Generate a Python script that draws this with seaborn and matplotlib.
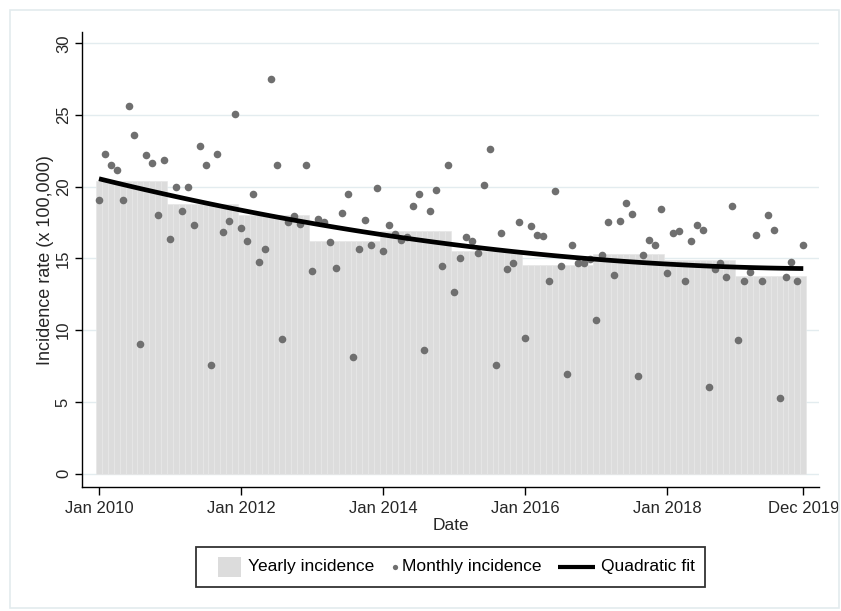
import numpy as np
import pandas as pd
import matplotlib
matplotlib.use("Agg")
import matplotlib.pyplot as plt
import seaborn as sns
from matplotlib.patches import Rectangle
from matplotlib.lines import Line2D
from matplotlib.offsetbox import AnchoredOffsetbox, HPacker, DrawingArea, TextArea

# ---- data ----
years = [2010, 2011, 2012, 2013, 2014, 2015, 2016, 2017, 2018, 2019]
yearly_incidence = [20.4, 18.77, 18.03, 16.21, 16.89, 15.51, 14.58, 15.33, 14.93, 13.77]
monthly_incidence = [
    19.07, 22.31, 21.52, 21.19, 19.07, 25.66, 23.63, 9.02, 22.19, 21.63, 18.05, 21.89,
    16.38, 19.96, 18.28, 19.96, 17.31, 22.87, 21.52, 7.58, 22.31, 16.84, 17.61, 25.10,
    17.10, 16.21, 19.47, 14.75, 15.65, 27.52, 21.49, 9.40, 17.54, 17.96, 17.38, 21.49,
    14.10, 17.72, 17.54, 16.12, 14.33, 18.14, 19.49, 8.16, 15.65, 17.70, 15.91, 19.94,
    15.51, 17.33, 16.70, 16.26, 16.47, 18.65, 19.47, 8.63, 18.31, 19.80, 14.49, 21.49,
    12.68, 15.03, 16.51, 16.19, 15.37, 20.15, 22.63, 7.58, 16.75, 14.24, 14.72, 17.54,
    9.47, 17.26, 16.65, 16.54, 13.45, 19.73, 14.47, 6.96, 15.96, 14.70, 14.70, 14.98,
    10.70, 15.21, 17.52, 13.82, 17.63, 18.89, 18.07, 6.79, 15.21, 16.26, 15.91, 18.42,
    13.96, 16.77, 16.89, 13.40, 16.19, 17.35, 17.00, 6.03, 14.28, 14.70, 13.72, 18.63,
    9.30, 13.45, 14.05, 16.63, 13.45, 18.05, 16.98, 5.30, 13.68, 14.75, 13.45, 15.93,
]
xtick_months = [0, 24, 48, 72, 96, 119]
xtick_labels = ["Jan 2010", "Jan 2012", "Jan 2014", "Jan 2016", "Jan 2018", "Dec 2019"]
ytick_values = [0, 5, 10, 15, 20, 25, 30]
legend_labels = ["Yearly incidence", "Monthly incidence", "Quadratic fit"]

months = np.arange(len(monthly_incidence))
df = pd.DataFrame({
    "month": months,
    "monthly": monthly_incidence,
    "yearly": np.repeat(yearly_incidence, 12),
})

sns.set_style("white")
plt.rcParams["font.family"] = ["Liberation Sans", "DejaVu Sans"]

fig = plt.figure(figsize=(8.41, 6.11), dpi=100)
ax = fig.add_axes([0.0975, 0.2025, 0.8763, 0.7451])

bar_color = "#dcdcdc"
pt_color = "#6f6f6f"

sns.barplot(data=df, x="month", y="yearly", native_scale=True, width=1.0,
            color=bar_color, edgecolor="#e7e7e7", linewidth=0.5,
            errorbar=None, ax=ax, zorder=2, saturation=1)
sns.scatterplot(data=df, x="month", y="monthly", color=pt_color, s=30,
                linewidth=0, ax=ax, zorder=4)
sns.regplot(data=df, x="month", y="monthly", order=2, scatter=False, ci=None,
            color="black", line_kws=dict(lw=3.4, solid_capstyle="butt", zorder=5), ax=ax)

ax.set_xlim(-2.87, 121.65)
ax.set_ylim(-0.95, 30.79)
ax.set_yticks(ytick_values)
ax.set_yticklabels([str(v) for v in ytick_values], rotation=90, va="center")
ax.set_xticks(xtick_months)
ax.set_xticklabels(xtick_labels)
ax.grid(axis="y", color="#e3ecef", lw=1.0, zorder=0)
ax.grid(axis="x", visible=False)
ax.set_axisbelow(True)

for s in ["top", "right"]:
    ax.spines[s].set_visible(False)
for s in ["left", "bottom"]:
    ax.spines[s].set_color("black")
    ax.spines[s].set_linewidth(1.0)

ax.tick_params(axis="y", direction="out", length=5, width=1, color="black",
               labelsize=12, pad=3, left=True)
ax.tick_params(axis="x", direction="out", length=6, width=1, color="black",
               labelsize=12, pad=4, bottom=True)

ax.set_xlabel("Date", fontsize=12.5, labelpad=1)
ax.set_ylabel("Incidence rate (x 100,000)", fontsize=13, labelpad=1)

# ---- legend (built from offset boxes so each key keeps its own size) ----
px = 0.72  # pixels -> points at 100 dpi
fs = 12.5

def key_patch():
    da = DrawingArea(35 * px, 20 * px, 0, 0)
    da.add_artist(Rectangle((12 * px, 0), 23 * px, 20 * px, facecolor=bar_color, edgecolor="none"))
    return da

def key_dot():
    da = DrawingArea(6 * px, 20 * px, 0, 0)
    da.add_artist(Line2D([3 * px], [10 * px], marker="o", linestyle="none",
                         color=pt_color, markersize=3.8, markeredgewidth=0))
    return da

def key_line():
    da = DrawingArea(37 * px, 20 * px, 0, 0)
    da.add_artist(Line2D([0, 37 * px], [10 * px, 10 * px], color="black", lw=3.0,
                         solid_capstyle="butt"))
    return da

keys = [key_patch(), key_dot(), key_line()]
seps = [7 * px, 4 * px, 6 * px]
entries = []
for k, lab, sp in zip(keys, legend_labels, seps):
    ta = TextArea(lab, textprops=dict(fontsize=fs, color="black"))
    entries.append(HPacker(children=[k, ta], sep=sp, pad=0, align="center"))
row = HPacker(children=entries, sep=17 * px, pad=0, align="center")
box = AnchoredOffsetbox(loc="center", child=row, pad=10 / 13.9, borderpad=0,
                        prop=dict(size=10), frameon=True,
                        bbox_to_anchor=(0.536, 0.0722), bbox_transform=fig.transFigure)
box.patch.set_boxstyle("square,pad=0")
box.patch.set_edgecolor("#333333")
box.patch.set_linewidth(1.3)
box.patch.set_facecolor("white")
fig.add_artist(box)

fig.patches.append(Rectangle((9.5 / 841, 3.5 / 611), (839.3 - 9.5) / 841, (601 - 3.5) / 611,
                             transform=fig.transFigure, fill=False,
                             edgecolor="#e3ebee", lw=1.2))

fig.savefig("out.png", dpi=100)
